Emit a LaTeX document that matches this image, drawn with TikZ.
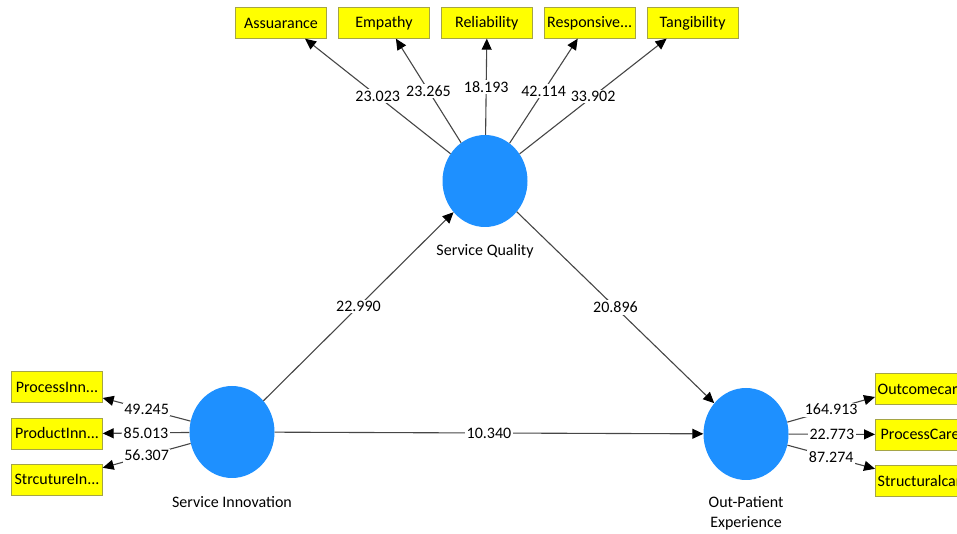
\documentclass[tikz,border=0pt]{standalone}
\usepackage{fontspec}
\setmainfont{Carlito}
\usepackage{tikz}
\usetikzlibrary{arrows.meta,positioning,shapes.geometric}
\definecolor{lvblue}{RGB}{30,144,255}
\definecolor{indfill}{RGB}{255,255,0}
\definecolor{indline}{RGB}{165,165,70}
\definecolor{pathgray}{RGB}{70,70,70}
\tikzset{
  >={Triangle[length=11pt,width=10pt,black]},
  every node/.append style={font=\fontsize{16}{20}\selectfont},
}
\tikzset{
  latent/.style={ellipse, fill=lvblue, draw=none, minimum width=85pt, minimum height=92pt, inner sep=0pt},
  ind/.style={rectangle, draw=indline, fill=indfill, minimum width=91pt, minimum height=31pt, inner sep=2pt},
  pth/.style={draw=pathgray, line width=1.1pt, ->},
  coef/.style={fill=white, inner sep=1.5pt},
  lvname/.style={align=center, inner sep=1pt}
}

\begin{document}
\begin{tikzpicture}[x=1pt, y=1pt, node distance=11.5pt and 11.5pt]

\useasboundingbox (0,0) rectangle (957,534);
\clip (0,0) rectangle (957,534);

% ============= Latent variables =============
\node[latent] (sq) at (485,353) {};
\node[latent] (si) at (232,102) {};
\node[latent] (ope) at (746,100) {};

\node[lvname, below=16pt of sq] (sqname) {Service Quality};
\node[lvname, below=17pt of si] (siname) {Service Innovation};
\node[lvname, below=15pt of ope] (opename) {Out-Patient\\Experience};

% ============= Service Quality indicators =============
\node[ind] (assur) at (281,511) {Assuarance};
\node[ind, right=of assur] (empat) {Empathy};
\node[ind, right=of empat] (relia) {Reliability};
\node[ind, right=of relia] (respo) {Responsive...};
\node[ind, right=of respo] (tangi) {Tangibility};

\draw[pth] (sq) -- ([xshift=24pt]assur.south) node[coef, midway] {23.023};
\draw[pth] (sq) -- ([xshift=12pt]empat.south) node[coef, midway] {23.265};
\draw[pth] (sq) -- (relia.south) node[coef, midway] {18.193};
\draw[pth] (sq) -- ([xshift=-12pt]respo.south) node[coef, midway] {42.114};
\draw[pth] (sq) -- ([xshift=-26pt]tangi.south) node[coef, midway] {33.902};

% ============= Service Innovation indicators =============
\node[ind] (procinn) at (57,147) {ProcessInn...};
\node[ind, below=15pt of procinn] (prodinn) {ProductInn...};
\node[ind, below=15pt of prodinn] (strinn) {StrcutureIn...};

\draw[pth] (si) -- ([yshift=-11pt]procinn.east) node[coef, midway] {49.245};
\draw[pth] (si) -- (prodinn.east) node[coef, midway] {85.013};
\draw[pth] (si) -- ([yshift=12pt]strinn.east) node[coef, midway] {56.307};

% ============= Out-Patient Experience indicators =============
\node[ind, anchor=west, text width=86pt, align=left] (outcare) at (875,145) {Outcomecar};
\node[ind, anchor=west, text width=86pt, align=left, below=14pt of outcare.south west, anchor=north west] (proccare) {\hspace{3pt}ProcessCare};
\node[ind, anchor=west, text width=86pt, align=left, below=15pt of proccare.south west, anchor=north west] (strcare) {Structuralcar};

\draw[pth] (ope) -- ([yshift=-8pt]outcare.west) node[coef, midway] {164.913};
\draw[pth] (ope) -- (proccare.west) node[coef, midway] {22.773};
\draw[pth] (ope) -- ([yshift=12pt]strcare.west) node[coef, midway] {87.274};

% ============= Structural paths =============
\draw[pth] (si) -- (sq) node[coef, midway] {22.990};
\draw[pth] (sq) -- (ope) node[coef, midway] {20.896};
\draw[pth] (si) -- (ope) node[coef, midway] {10.340};

\end{tikzpicture}
\end{document}
